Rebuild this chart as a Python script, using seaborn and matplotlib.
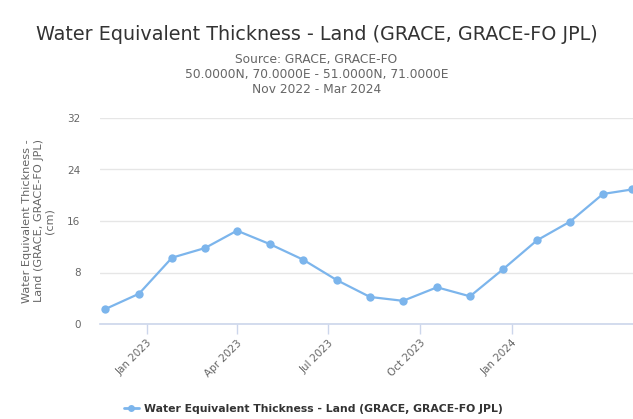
import matplotlib
matplotlib.use("Agg")
import matplotlib.pyplot as plt
from matplotlib.lines import Line2D
import seaborn as sns
import pandas as pd

# ---- data ----
dates = ["2022-11-20", "2022-12-24", "2023-01-26", "2023-02-28", "2023-04-01",
         "2023-05-04", "2023-06-06", "2023-07-10", "2023-08-12", "2023-09-14",
         "2023-10-18", "2023-11-20", "2023-12-23", "2024-01-26", "2024-02-28",
         "2024-04-01", "2024-04-30"]
values = [2.3, 4.7, 10.3, 11.8, 14.5, 12.4, 10.0, 6.8, 4.2, 3.6,
          5.7, 4.3, 8.5, 13.0, 15.9, 20.2, 20.9]
yticks = [0, 8, 16, 24, 32]
xtick_dates = ["2023-01-01", "2023-04-01", "2023-07-01", "2023-10-01", "2024-01-01"]
xtick_labels = ["Jan 2023", "Apr 2023", "Jul 2023", "Oct 2023", "Jan 2024"]

title = "Water Equivalent Thickness - Land (GRACE, GRACE-FO JPL)"
subtitle = "Source: GRACE, GRACE-FO\n50.0000N, 70.0000E - 51.0000N, 71.0000E\nNov 2022 - Mar 2024"
ylabel = "Water Equivalent Thickness -\nLand (GRACE, GRACE-FO JPL)\n(cm)"
series_name = "Water Equivalent Thickness - Land (GRACE, GRACE-FO JPL)"

df = pd.DataFrame({"date": pd.to_datetime(dates), "value": values})

sns.set_theme(style="white")
plt.rcParams["font.family"] = ["DejaVu Sans"]

W, H = 633, 419
fig = plt.figure(figsize=(W / 100, H / 100), dpi=100)
ax = fig.add_axes([100 / W, 1 - 324 / H, 533 / W, (324 - 118) / H])

color = "#7cb5ec"
sns.lineplot(data=df, x="date", y="value", ax=ax, color=color, marker="o",
             markersize=6, markeredgewidth=0, linewidth=1.6, legend=False, clip_on=False)

ax.set_ylim(0, 32)
ax.set_yticks(yticks)
ax.set_xlim(pd.Timestamp("2022-11-15"), pd.Timestamp("2024-05-01"))
ax.set_xticks(pd.to_datetime(xtick_dates))
ax.set_xticklabels(xtick_labels, rotation=45, ha="right", rotation_mode="anchor",
                   color="#666666", fontsize=7.5)
for lab in ax.get_yticklabels():
    lab.set_color("#666666")
    lab.set_fontsize(7.5)

ax.grid(axis="y", color="#e6e6e6", linewidth=1)
ax.grid(axis="x", visible=False)
for s in ["top", "right", "left"]:
    ax.spines[s].set_visible(False)
ax.spines["bottom"].set_color("#ccd6eb")
ax.spines["bottom"].set_linewidth(1.2)
ax.tick_params(axis="x", direction="out", length=7, width=1, color="#ccd6eb", pad=3, bottom=True)
ax.tick_params(axis="y", length=0, pad=14)
ax.set_xlabel("")
ax.set_ylabel(ylabel, color="#666666", fontsize=8.1, linespacing=1.15, labelpad=9)

fig.text(0.5, 1 - 34 / H, title, ha="center", va="center", fontsize=13.8, color="#333333")
fig.text(0.5, 1 - 74.5 / H, subtitle, ha="center", va="center", fontsize=8.8,
         color="#666666", linespacing=1.2)

handle = Line2D([0], [0], color=color, marker="o", markersize=5, markeredgewidth=0, linewidth=2)
fig.legend([handle], [series_name], loc="center", bbox_to_anchor=(0.495, 1 - 409 / H),
           frameon=False, prop={"weight": "bold", "size": 7.8}, labelcolor="#333333",
           handlelength=1.4, handletextpad=0.5)

fig.savefig("out.png", dpi=100)
